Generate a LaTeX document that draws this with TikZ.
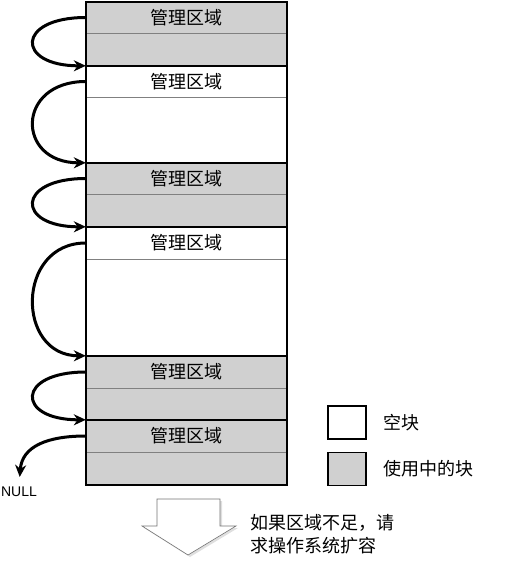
\documentclass[tikz,border=0pt]{standalone}
\usepackage{fontspec}
\setmainfont{Liberation Sans}
\newfontfamily\cjk{Noto Sans CJK SC}
\usetikzlibrary{arrows.meta,shadows}
\definecolor{used}{RGB}{208,208,208}
\begin{document}
\begin{tikzpicture}[x=1pt,y=-1pt,
  hdr/.style={minimum width=201pt, inner sep=0pt, font=\cjk\fontsize{18}{20}\selectfont},
  bodybox/.style={minimum width=201pt, inner sep=0pt},
  sepline/.style={draw=black!50, line width=0.8pt},
  blk/.style={draw=black, line width=1.7pt},
  link/.style={line width=3pt, -{Stealth[length=12pt,width=11pt]}},
  legendbox/.style={draw=black, line width=1.7pt, minimum width=38pt, minimum height=33pt, inner sep=0pt},
  lbl/.style={font=\cjk\fontsize{18}{23}\selectfont, anchor=west, inner sep=0pt},
  bigarrow/.style={draw=black!55, line width=0.6pt, fill=white,
    drop shadow={opacity=0.25, shadow xshift=2pt, shadow yshift=-2pt}}]
\useasboundingbox (0,0) rectangle (515,567);

% block 1 (used)
\node[hdr, fill=used, minimum height=31pt] (h1) at (186.5,17.5) {管理区域};
\node[bodybox, fill=used, minimum height=33pt] (b1) at (186.5,49.5) {};
% block 2 (free)
\node[hdr, fill=white, minimum height=31pt] (h2) at (186.5,81.5) {管理区域};
\node[bodybox, fill=white, minimum height=66pt] (b2) at (186.5,130) {};
% block 3 (used)
\node[hdr, fill=used, minimum height=31pt] (h3) at (186.5,178.5) {管理区域};
\node[bodybox, fill=used, minimum height=33pt] (b3) at (186.5,210.5) {};
% block 4 (free)
\node[hdr, fill=white, minimum height=32pt] (h4) at (186.5,243) {管理区域};
\node[bodybox, fill=white, minimum height=97pt] (b4) at (186.5,307.5) {};
% block 5 (used)
\node[hdr, fill=used, minimum height=32pt] (h5) at (186.5,372) {管理区域};
\node[bodybox, fill=used, minimum height=32pt] (b5) at (186.5,404) {};
% block 6 (used)
\node[hdr, fill=used, minimum height=32pt] (h6) at (186.5,436) {管理区域};
\node[bodybox, fill=used, minimum height=33pt] (b6) at (186.5,468.5) {};

\foreach \i in {1,...,6}{
  \draw[sepline] (h\i.south west) -- (h\i.south east);
  \draw[blk] (h\i.north west) rectangle (b\i.south east);
}

% links
\draw[link] (h1.west) .. controls +(-70,0) and +(-70,0) .. (h2.north west);
\draw[link] (h2.west) .. controls +(-70,0) and +(-70,0) .. (h3.north west);
\draw[link] (h3.west) .. controls +(-70,0) and +(-70,0) .. (h4.north west);
\draw[link] (h4.west) .. controls +(-70,0) and +(-70,0) .. (h5.north west);
\draw[link] (h5.west) .. controls +(-70,0) and +(-70,0) .. (h6.north west);

\node[font=\fontsize{14}{16}\selectfont, inner sep=0pt] (null) at (19,492) {NULL};
\draw[link, shorten >=10pt] (h6.west) .. controls (48,436) and (22,446) .. (null.north);

% legend
\node[legendbox, fill=white] (lf) at (347,422.5) {};
\node[legendbox, fill=used] (lu) at (347,469) {};
\node[lbl] (tf) at (383,423) {空块};
\node[lbl] (tu) at (383,469) {使用中的块};

% big hollow arrow
\draw[bigarrow] (157,499) -- (220,499) -- (220,526) -- (236,526) -- (188,555) -- (142,526) -- (157,526) -- cycle;
\node[lbl, align=left] (note) at (250,534) {如果区域不足，请\\求操作系统扩容};
\end{tikzpicture}
\end{document}
